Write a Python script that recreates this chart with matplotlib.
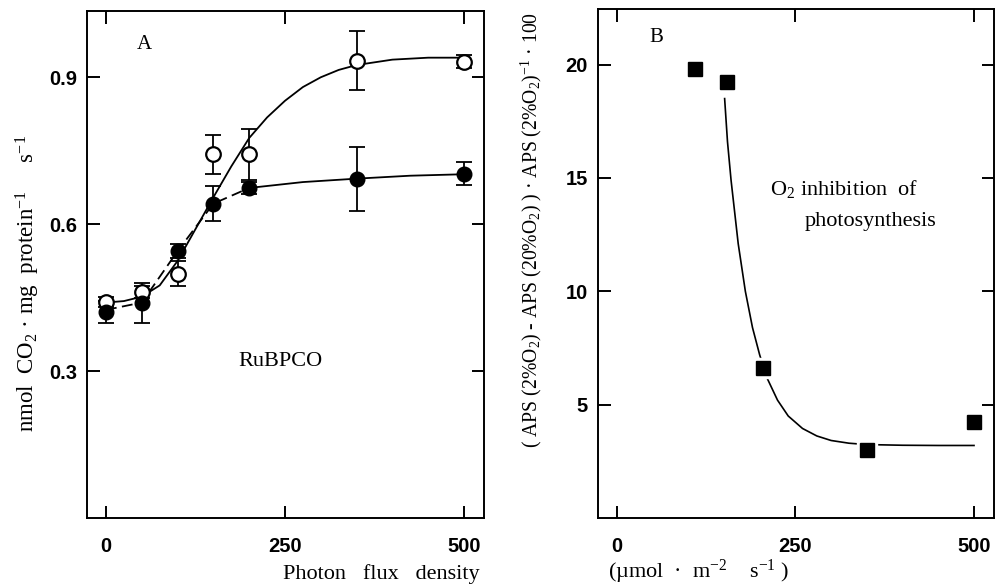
import matplotlib
matplotlib.use("Agg")
import matplotlib.pyplot as plt

plt.rcParams['mathtext.default'] = 'regular'
SERIF = ['Liberation Serif', 'DejaVu Serif']
SANS = ['Liberation Sans', 'DejaVu Sans']

# ---- Panel A data ----
pfd = [0, 50, 100, 150, 200, 350, 500]
open_vals = [0.441, 0.461, 0.499, 0.743, 0.743, 0.934, 0.932]
open_err = [0.010, 0.012, 0.025, 0.040, 0.052, 0.060, 0.014]
filled_vals = [0.421, 0.439, 0.545, 0.642, 0.674, 0.692, 0.703]
filled_err = [0.022, 0.040, 0.015, 0.035, 0.012, 0.066, 0.024]

# fitted curves
open_fit_x = [0, 25, 50, 75, 100, 125, 150, 175, 200, 225, 250, 275, 300, 325, 350, 400, 450, 500]
open_fit_y = [0.440, 0.443, 0.452, 0.475, 0.525, 0.590, 0.655, 0.718, 0.776, 0.818, 0.852, 0.880,
              0.900, 0.915, 0.925, 0.936, 0.940, 0.940]
filled_fit_x1 = [0, 50, 100, 150, 200]
filled_fit_y1 = [0.425, 0.440, 0.545, 0.642, 0.674]
filled_fit_x2 = [200, 275, 350, 425, 500]
filled_fit_y2 = [0.674, 0.686, 0.693, 0.699, 0.702]

# ---- Panel B data ----
b_x = [110, 155, 205, 350, 500]
b_y = [19.8, 19.25, 6.6, 3.0, 4.25]
b_fit_x = [151, 155, 160, 170, 180, 190, 200, 210, 225, 240, 260, 280, 300, 325, 350, 400, 450, 500]
b_fit_y = [18.5, 16.6, 14.9, 12.1, 10.0, 8.4, 7.2, 6.2, 5.2, 4.5, 3.95, 3.62, 3.42, 3.30, 3.24, 3.21, 3.20, 3.20]

x_ticks = [0, 250, 500]
a_yticks = [0.3, 0.6, 0.9]
b_yticks = [5, 10, 15, 20]

fig = plt.figure(figsize=(9.98, 5.87), dpi=100)
axA = fig.add_axes([0.0872, 0.1175, 0.3978, 0.8635])
axB = fig.add_axes([0.599, 0.1175, 0.397, 0.8675])

for ax in (axA, axB):
    ax.set_xlim(-26.5, 528)
    ax.set_xticks(x_ticks)
    ax.tick_params(direction='in', length=9, width=1.4, top=True, right=True,
                   labelsize=14.5, pad=7)
    ax.tick_params(axis='x', pad=14)
    for s in ax.spines.values():
        s.set_linewidth(1.4)

# Panel A
axA.set_ylim(0.0, 1.035)
axA.set_yticks(a_yticks)
axA.set_yticklabels(['0.3', '0.6', '0.9'], fontweight='bold', family=SANS)
axA.set_xticklabels([str(t) for t in x_ticks], fontweight='bold', family=SANS)

axA.plot(open_fit_x, open_fit_y, color='black', lw=1.3, zorder=2)
axA.plot(filled_fit_x1, filled_fit_y1, color='black', lw=1.3, ls=(0, (6, 3)), zorder=2)
axA.plot(filled_fit_x2, filled_fit_y2, color='black', lw=1.3, zorder=2)

axA.errorbar(pfd, open_vals, yerr=open_err, fmt='none', ecolor='black', elinewidth=1.3,
             capsize=6, capthick=1.3, zorder=3)
axA.errorbar(pfd, filled_vals, yerr=filled_err, fmt='none', ecolor='black', elinewidth=1.3,
             capsize=6, capthick=1.3, zorder=3)
axA.plot(pfd, open_vals, 'o', ms=10.5, mfc='white', mec='black', mew=1.6, ls='none', zorder=4)
axA.plot(pfd, filled_vals, 'o', ms=10.5, mfc='black', mec='black', mew=1.0, ls='none', zorder=5)

axA.text(54, 0.967, 'A', family=SERIF, fontsize=15, ha='center', va='center')
axA.text(243, 0.32, 'RuBPCO', family=SERIF, fontsize=16, ha='center', va='center')

# Panel B
axB.set_ylim(0.0, 22.46)
axB.set_yticks(b_yticks)
axB.set_yticklabels([str(t) for t in b_yticks], fontweight='bold', family=SANS)
axB.set_xticklabels([str(t) for t in x_ticks], fontweight='bold', family=SANS)

axB.plot(b_fit_x, b_fit_y, color='black', lw=1.2, zorder=2)
axB.plot(b_x, b_y, 's', ms=15, mfc='white', mec='white', ls='none', zorder=3)
axB.plot(b_x, b_y, 's', ms=10, mfc='black', mec='black', ls='none', zorder=4)

axB.text(56, 21.2, 'B', family=SERIF, fontsize=15, ha='center', va='center')
axB.text(214, 14.5, 'O$_2$ inhibition  of', family=SERIF, fontsize=16, ha='left', va='center')
axB.text(263, 13.1, 'photosynthesis', family=SERIF, fontsize=16, ha='left', va='center')

# axis labels
fig.text(0.028, 1 - 283 / 587, 'nmol  CO$_2$ · mg  protein$^{-1}$     s$^{-1}$', rotation=90,
         family=SERIF, fontsize=16.5, ha='center', va='center')
fig.text(0.532, 1 - 230 / 587,
         '( APS (2%O$_2$) - APS (20%O$_2$) ) · APS (2%O$_2$)$^{-1}$ · 100', rotation=90,
         family=SERIF, fontsize=14.2, ha='center', va='center')
fig.text(283 / 998, 1 - 574 / 587, 'Photon   flux   density', family=SERIF, fontsize=16,
         ha='left', va='center')
fig.text(608 / 998, 1 - 572 / 587, '(µmol  ·  m$^{-2}$    s$^{-1}$ )', family=SERIF, fontsize=16,
         ha='left', va='center')

fig.savefig('out.png', dpi=100)
